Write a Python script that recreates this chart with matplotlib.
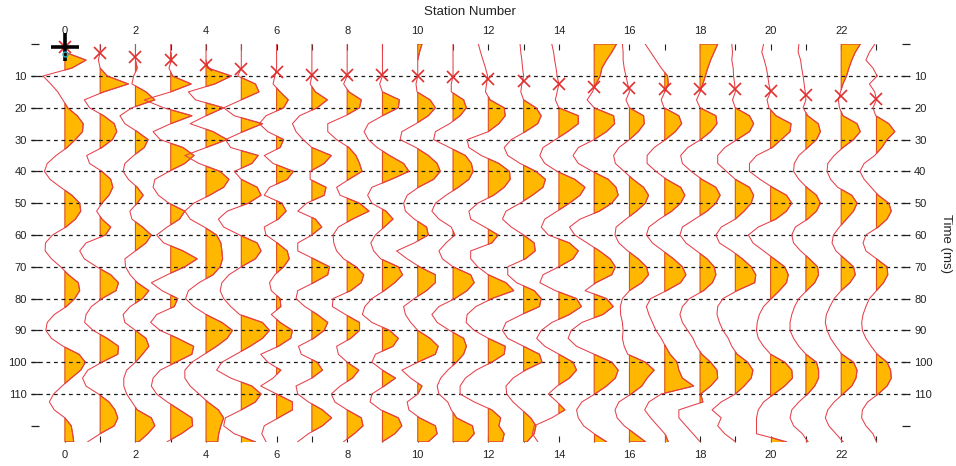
import numpy as np
import matplotlib
matplotlib.use("Agg")
import matplotlib.pyplot as plt

plt.rcParams['font.family'] = ['Liberation Sans', 'DejaVu Sans']

# ---------------- data (amplitudes in station units, sampled every 2.5 ms) ----
sample_ms = 2.5
stations = list(range(24))
pick_ms = [0.8, 2.9, 4.0, 5.0, 6.5, 7.7, 8.7, 9.7, 9.7, 9.7, 10.0, 10.3,
           11.0, 11.6, 12.6, 13.6, 13.9, 14.0, 14.2, 14.2, 14.8, 16.0, 16.4, 17.2]

trace_00 = [0, 0, 0.6, 0.2, -0.62, -0.4, -0.2, -0.06, 0.08, 0.35,
            0.52, 0.5, 0.3, 0.06, -0.25, -0.5, -0.58, -0.42, -0.12, 0.2,
            0.42, 0.45, 0.3, 0.03, -0.35, -0.55, -0.56, -0.38, -0.12, 0.1,
            0.38, 0.42, 0.28, 0.04, -0.3, -0.5, -0.54, -0.38, -0.05, 0.4,
            0.58, 0.45, 0.18, -0.08, -0.32, -0.44, -0.3, 0.0, 0.18, 0.22, 0.25]
trace_01 = [0, 0, -0.05, 0, 0.2, 0.8, 0.1, -0.45, -0.3, 0.1,
            0.4, 0.47, 0.35, 0.05, -0.38, -0.3, 0.05, 0.3, 0.36, 0.25,
            0.05, -0.1, 0.05, 0.3, 0.15, -0.4, -0.58, -0.45, -0.1, 0.3,
            0.52, 0.45, 0.05, -0.25, -0.4, -0.44, -0.2, 0.2, 0.52, 0.5,
            0.05, -0.35, -0.5, -0.4, -0.05, 0.25, 0.42, 0.5, 0.4, 0.0, -0.35]
trace_02 = [0, 0, 0, 0.05, -0.05, -0.1, 0.3, 0.55, -0.1, -0.44,
            -0.3, 0.05, 0.36, 0.25, -0.05, -0.3, -0.35, -0.2, 0.05, 0.22,
            0.05, -0.16, -0.1, 0.2, 0.45, 0.3, 0.0, -0.3, -0.28, -0.15,
            0.05, 0.38, 0.2, -0.15, -0.35, -0.3, 0.0, 0.3, 0.38, 0.2,
            0.0, -0.25, -0.33, -0.33, -0.25, -0.1, 0.05, 0.45, 0.55, 0.35, 0.1]
trace_03 = [0, 0, 0.02, -0.05, 0.05, 0.58, 0.0, -0.75, -0.2, 0.6,
            0.0, -0.5, -0.3, 0.35, 0.66, 0.4, -0.05, -0.45, -0.5, -0.35,
            -0.05, 0.4, 0.25, -0.1, -0.4, -0.2, 0.35, 0.75, 0.4, -0.1,
            -0.55, -0.25, 0.2, 0.1, -0.4, -0.57, -0.3, 0.2, 0.65, 0.6,
            0.15, -0.3, -0.5, -0.55, -0.4, -0.1, 0.25, 0.6, 0.62, 0.3, -0.1]
trace_04 = [0, 0, 0, 0.05, 0.72, 0.25, -0.5, -0.3, 0.5, 0.0,
            -0.45, 0.2, 0.6, 0.0, -0.6, -0.2, 0.4, 0.65, 0.5, 0.1,
            -0.35, -0.6, -0.45, -0.05, 0.3, 0.42, 0.45, 0.47, 0.4, 0.2,
            -0.2, -0.5, -0.58, -0.35, 0.0, 0.45, 0.75, 0.6, 0.3, -0.05,
            -0.4, -0.6, -0.6, -0.45, -0.2, 0.05, 0.35, 0.5, 0.42, 0.36, 0.33]
trace_05 = [0, 0, 0, 0.0, -0.1, 0.4, 0.5, 0.0, -0.5, -0.2,
            0.6, 0.05, -0.45, -0.3, 0.48, 0.3, -0.2, 0.0, 0.45, 0.56,
            0.2, -0.4, -0.65, -0.5, -0.05, 0.45, 0.56, 0.4, 0.0, -0.35,
            -0.55, -0.6, -0.5, -0.3, -0.05, 0.6, 0.8, 0.6, 0.25, -0.15,
            -0.55, -0.7, -0.3, 0.3, 0.56, 0.4, 0.0, -0.45, -0.5, -0.2, 0.4]
trace_06 = [0, 0, 0, 0, -0.05, -0.1, 0.1, 0.33, 0.2, -0.3,
            -0.49, -0.25, 0.2, 0.1, -0.35, -0.1, 0.48, 0.3, -0.2, -0.35,
            0.15, 0.27, 0.05, -0.35, -0.3, 0.02, 0.3, 0.36, 0.2, -0.05,
            -0.2, -0.15, 0.1, 0.12, -0.15, 0.1, 0.45, 0.4, 0.05, -0.45,
            -0.25, 0.12, -0.1, -0.45, 0.0, 0.45, 0.45, 0.05, -0.35, -0.42, -0.3]
trace_07 = [0, 0, 0, 0, 0.0, -0.05, 0.1, 0.44, 0.15, -0.35,
            -0.55, -0.45, -0.25, 0.0, 0.55, 0.35, -0.05, -0.05, 0.4, 0.35,
            -0.15, -0.4, 0.1, 0.28, 0.0, -0.4, -0.4, 0.05, 0.5, 0.45,
            0.05, -0.4, -0.45, -0.2, 0.15, 0.45, 0.35, 0.05, -0.38, -0.3,
            0.15, 0.3, 0.0, -0.45, -0.4, -0.1, 0.3, 0.56, 0.3, -0.1, -0.4]
trace_08 = [0, 0, 0, 0, 0.0, -0.1, 0.05, 0.4, 0.35, -0.05,
            -0.55, -0.55, -0.3, 0.05, 0.25, 0.35, 0.42, 0.05, -0.3, -0.2,
            0.35, 0.62, 0.15, -0.25, -0.4, -0.38, -0.3, -0.1, 0.25, 0.47,
            0.4, 0.1, -0.4, -0.42, -0.05, 0.35, 0.35, 0.1, -0.3, -0.25,
            0.0, 0.33, 0.15, -0.2, -0.45, -0.35, 0.0, 0.4, 0.45, 0.2, -0.1]
trace_09 = [0, 0, 0, 0, 0.0, -0.08, 0.0, 0.48, 0.45, 0.0,
            -0.4, -0.52, -0.4, -0.15, 0.2, 0.6, 0.75, 0.25, -0.3, -0.42,
            -0.3, 0.1, 0.3, 0.05, -0.2, -0.33, -0.25, -0.05, 0.45, 0.57,
            0.35, 0.05, -0.3, -0.5, -0.57, -0.3, 0.2, 0.45, 0.3, -0.2,
            -0.3, 0.0, 0.37, 0.05, -0.3, -0.35, -0.05, 0.45, 0.55, 0.35, 0.0]
trace_10 = [0.12, 0.05, 0.0, 0.0, 0.0, -0.05, -0.02, 0.35, 0.5, 0.3,
            -0.05, -0.45, -0.5, -0.05, 0.3, 0.55, 0.64, 0.45, 0.02, -0.3,
            -0.4, -0.35, -0.1, 0.25, 0.3, -0.1, -0.6, -0.3, 0.05, 0.5,
            0.5, 0.25, -0.1, -0.4, -0.35, -0.2, 0.0, 0.35, 0.58, 0.5,
            0.0, -0.45, -0.2, 0.12, 0.0, -0.3, -0.25, 0.05, 0.5, 0.55, 0.3]
trace_11 = [0, 0, 0, 0, 0.0, -0.05, -0.05, 0.3, 0.38, 0.2,
            -0.1, -0.5, -0.55, -0.1, 0.35, 0.52, 0.57, 0.45, 0.15, -0.2,
            -0.5, -0.6, -0.4, -0.05, 0.05, -0.2, -0.4, -0.3, 0.0, 0.5,
            0.6, 0.4, 0.05, -0.4, -0.6, -0.45, -0.1, 0.3, 0.38, 0.3,
            0.1, -0.15, -0.35, -0.45, -0.4, -0.15, -0.05, 0.1, 0.55, 0.6, 0.4]
trace_12 = [-0.28, -0.22, -0.15, -0.08, -0.02, -0.05, -0.08, 0.05, 0.45, 0.48,
            0.3, 0.0, -0.6, -0.55, -0.2, 0.3, 0.6, 0.62, 0.45, 0.15,
            -0.3, -0.55, -0.5, -0.1, 0.28, 0.1, -0.5, -0.5, -0.3, 0.0,
            0.5, 0.72, 0.1, -0.35, -0.6, -0.63, -0.4, 0.0, 0.48, 0.45,
            0.1, -0.35, -0.65, -0.8, -0.8, -0.4, 0.1, 0.35, 0.3, 0.45, 0.4]
trace_13 = [-0.1, -0.08, -0.05, -0.03, 0.0, -0.05, -0.08, 0.0, 0.35, 0.5,
            0.4, 0.05, -0.35, -0.55, -0.45, -0.1, 0.35, 0.62, 0.55, 0.25,
            -0.1, -0.5, -0.6, -0.35, 0.0, 0.3, 0.33, 0.05, -0.45, -0.45,
            -0.2, 0.3, 0.5, 0.45, -0.05, -0.5, -0.6, -0.45, 0.0, 0.45,
            0.52, 0.05, -0.3, -0.5, -0.48, -0.3, -0.05, 0.2, 0.35, 0.3, 0.1]
trace_14 = [-0.2, -0.15, -0.12, -0.08, -0.05, 0.0, -0.05, -0.1, 0.0, 0.55,
            0.55, 0.25, -0.1, -0.45, -0.54, -0.4, -0.05, 0.45, 0.74, 0.6,
            0.3, -0.05, -0.4, -0.5, -0.3, 0.3, 0.55, 0.4, 0.0, -0.45,
            -0.54, -0.1, 0.5, 0.64, 0.3, -0.2, -0.5, -0.63, -0.4, 0.0,
            0.4, 0.5, 0.3, -0.05, -0.3, -0.05, 0.17, -0.2, -0.7, -0.75, -0.6]
trace_15 = [0.63, 0.5, 0.35, 0.22, 0.17, 0.05, -0.05, -0.2, 0.0, 0.55,
            0.58, 0.35, 0.0, -0.45, -0.6, -0.45, -0.05, 0.4, 0.62, 0.68,
            0.5, 0.15, -0.4, -0.7, -0.55, -0.2, 0.15, 0.45, 0.6, 0.5,
            0.05, -0.26, 0.35, 0.54, 0.25, -0.35, -0.65, -0.74, -0.5, 0.0,
            0.5, 0.68, 0.6, 0.35, 0.02, -0.35, -0.5, -0.45, -0.3, 0.0, 0.35]
trace_16 = [-0.2, -0.18, -0.18, -0.15, -0.1, -0.05, 0.0, -0.1, 0.0, 0.4,
            0.42, 0.25, 0.0, -0.3, -0.45, -0.4, -0.15, 0.1, 0.4, 0.54,
            0.45, 0.2, -0.1, -0.38, -0.41, -0.3, -0.05, 0.25, 0.48, 0.54,
            0.35, 0.0, -0.2, -0.26, -0.25, -0.2, -0.18, -0.2, -0.15, -0.05,
            0.45, 0.7, 0.5, 0.35, 0.05, -0.3, -0.41, -0.35, -0.15, 0.15, 0.45]
trace_17 = [-0.55, -0.4, -0.25, -0.1, 0.08, 0.1, 0.0, -0.1, -0.02, 0.4,
            0.48, 0.3, 0.02, -0.3, -0.5, -0.5, -0.25, 0.05, 0.45, 0.57,
            0.45, 0.2, -0.15, -0.45, -0.52, -0.35, -0.05, 0.25, 0.5, 0.6,
            0.45, 0.05, -0.4, -0.52, -0.45, -0.35, -0.25, -0.1, 0.02, 0.15,
            0.35, 0.4, 0.5, 0.82, -0.1, -0.45, -0.57, -0.4, -0.2, 0.0, 0.1]
trace_18 = [0.5, 0.4, 0.3, 0.22, 0.15, 0.08, 0.0, -0.1, 0.0, 0.45,
            0.48, 0.3, 0.02, -0.35, -0.55, -0.5, -0.25, 0.05, 0.45, 0.57,
            0.45, 0.2, -0.15, -0.5, -0.57, -0.4, -0.1, 0.2, 0.4, 0.45,
            0.35, 0.1, -0.3, -0.5, -0.57, -0.5, -0.35, -0.2, -0.1, 0.05,
            0.3, 0.48, 0.5, 0.3, 0.02, 0.08, -0.6, -0.6, -0.4, -0.2, 0.0]
trace_19 = [-0.1, -0.08, -0.1, -0.06, -0.05, -0.02, 0.0, -0.08, 0.0, 0.4,
            0.52, 0.4, 0.05, -0.3, -0.5, -0.5, -0.25, 0.0, 0.4, 0.52,
            0.45, 0.25, 0.0, -0.4, -0.55, -0.45, -0.1, 0.2, 0.45, 0.58,
            0.55, 0.05, -0.35, -0.5, -0.52, -0.45, -0.35, -0.2, -0.1, 0.05,
            0.35, 0.5, 0.45, 0.25, 0.0, -0.4, -0.66, -0.4, -0.5, -0.3, 0.0]
trace_20 = [-0.2, -0.25, -0.18, -0.12, -0.08, -0.05, 0.0, -0.1, -0.05, 0.15,
            0.58, 0.55, 0.3, 0.05, -0.4, -0.6, -0.6, -0.3, 0.05, 0.45,
            0.6, 0.45, 0.15, -0.35, -0.63, -0.5, -0.2, 0.1, 0.4, 0.5,
            0.45, 0.25, 0.02, -0.2, -0.32, -0.38, -0.4, -0.35, -0.2, 0.0,
            0.4, 0.6, 0.62, 0.4, 0.1, -0.2, -0.35, -0.4, -0.4, -0.4, 0.45]
trace_21 = [-0.2, -0.22, -0.15, -0.12, -0.08, -0.05, -0.02, 0.0, -0.08, 0.05,
            0.35, 0.41, 0.3, 0.05, -0.2, -0.33, -0.35, -0.2, 0.02, 0.3,
            0.41, 0.3, 0.05, -0.3, -0.4, -0.35, -0.15, 0.1, 0.33, 0.36,
            0.25, 0.02, -0.2, -0.32, -0.4, -0.45, -0.45, -0.35, -0.2, 0.0,
            0.3, 0.36, 0.36, 0.25, 0.05, -0.2, -0.4, -0.45, -0.35, -0.1, 0.05]
trace_22 = [0.54, 0.4, 0.3, 0.22, 0.15, 0.05, -0.02, -0.08, -0.05, 0.05,
            0.45, 0.54, 0.35, 0.05, -0.2, -0.38, -0.4, -0.3, -0.1, 0.3,
            0.45, 0.35, 0.15, -0.05, -0.22, -0.26, -0.15, 0.1, 0.35, 0.4,
            0.25, 0.0, -0.2, -0.32, -0.42, -0.45, -0.4, -0.3, -0.15, 0.02,
            0.35, 0.45, 0.42, 0.3, 0.05, -0.2, -0.38, -0.45, -0.35, -0.15, 0.05]
trace_23 = [-0.05, -0.2, -0.3, -0.1, 0.02, -0.2, -0.05, 0.0, -0.1, -0.02,
            0.35, 0.52, 0.3, 0.15, -0.05, -0.35, -0.47, -0.35, -0.15, 0.05,
            0.35, 0.42, 0.3, 0.05, -0.3, -0.38, -0.3, 0.0, 0.3, 0.32,
            0.2, 0.0, -0.2, -0.3, -0.38, -0.42, -0.4, -0.3, -0.15, 0.02,
            0.3, 0.4, 0.42, 0.3, 0.05, -0.25, -0.4, -0.42, -0.3, -0.1, 0.0]

traces = [trace_00, trace_01, trace_02, trace_03, trace_04, trace_05,
          trace_06, trace_07, trace_08, trace_09, trace_10, trace_11,
          trace_12, trace_13, trace_14, trace_15, trace_16, trace_17,
          trace_18, trace_19, trace_20, trace_21, trace_22, trace_23]

grid_ms = [10, 20, 30, 40, 50, 60, 70, 80, 90, 100, 110]
ytick_ms = [0, 10, 20, 30, 40, 50, 60, 70, 80, 90, 100, 110, 120]
ytick_labels = ['', '10', '20', '30', '40', '50', '60', '70', '80', '90',
                '100', '110', '']
xtick_labels = [str(s) if s % 2 == 0 else '' for s in stations]

# ---------------- figure ----------------
W, H = 956, 466
fig = plt.figure(figsize=(W / 100, H / 100), dpi=100)
ax_l, ax_r, ax_t, ax_b = 31, 910, 44.2, 441.7
ax = fig.add_axes([ax_l / W, 1 - ax_b / H, (ax_r - ax_l) / W, (ax_b - ax_t) / H])

xlim = (-0.96, 23.95)
ax.set_xlim(*xlim)
ax.set_ylim(125, 0)

fill_c = '#FFB700'
edge_c = '#E0501A'
line_c = '#E6404A'

for s, tr in zip(stations, traces):
    a = np.asarray(tr, dtype=float)
    t = np.arange(len(a)) * sample_ms
    ax.fill_betweenx(t, s, s + a, where=a > 0, interpolate=True,
                     facecolor=fill_c, edgecolor=edge_c, linewidth=0.8, zorder=2)
    ax.plot(s + a, t, color=line_c, lw=0.75, zorder=4)

ax.hlines(grid_ms, xlim[0], xlim[1], colors='#1a1a1a',
          linestyles=(0, (3, 3)), lw=0.9, zorder=3)

ax.plot(stations, pick_ms, ls='none', marker='x', ms=9, mew=1.2,
        color='#E03030', zorder=5, clip_on=False)
ax.plot([stations[0]], [pick_ms[0]], marker='+', ms=20, mew=2.6,
        color='black', zorder=6, clip_on=False)
ax.plot([stations[0]], [pick_ms[0] + 2.2], marker='o', ms=3.5, mfc='none',
        mec='#20B0C8', mew=1.0, zorder=7, clip_on=False)

for sp in ax.spines.values():
    sp.set_visible(False)

ax.set_xticks(stations)
ax.set_xticklabels(xtick_labels)
ax.tick_params(axis='x', top=True, bottom=True, labeltop=True, labelbottom=True,
               direction='in', length=4, width=0.8, pad=6, labelsize=8,
               colors='#222222')
ax.set_yticks(ytick_ms)
ax.set_yticklabels(ytick_labels)
ax.tick_params(axis='y', left=True, right=True, labelleft=True, labelright=True,
               direction='in', length=6, width=0.9, pad=3, labelsize=8,
               colors='#222222')

fig.text(469.5 / W, 1 - 12 / H, 'Station Number', ha='center', va='center',
         fontsize=9.5, color='#222222')
fig.text(940 / W, 1 - 243 / H, 'Time (ms)', rotation=-90, ha='left',
         va='center', fontsize=9.5, color='#222222')

fig.savefig('out.png', dpi=100)
